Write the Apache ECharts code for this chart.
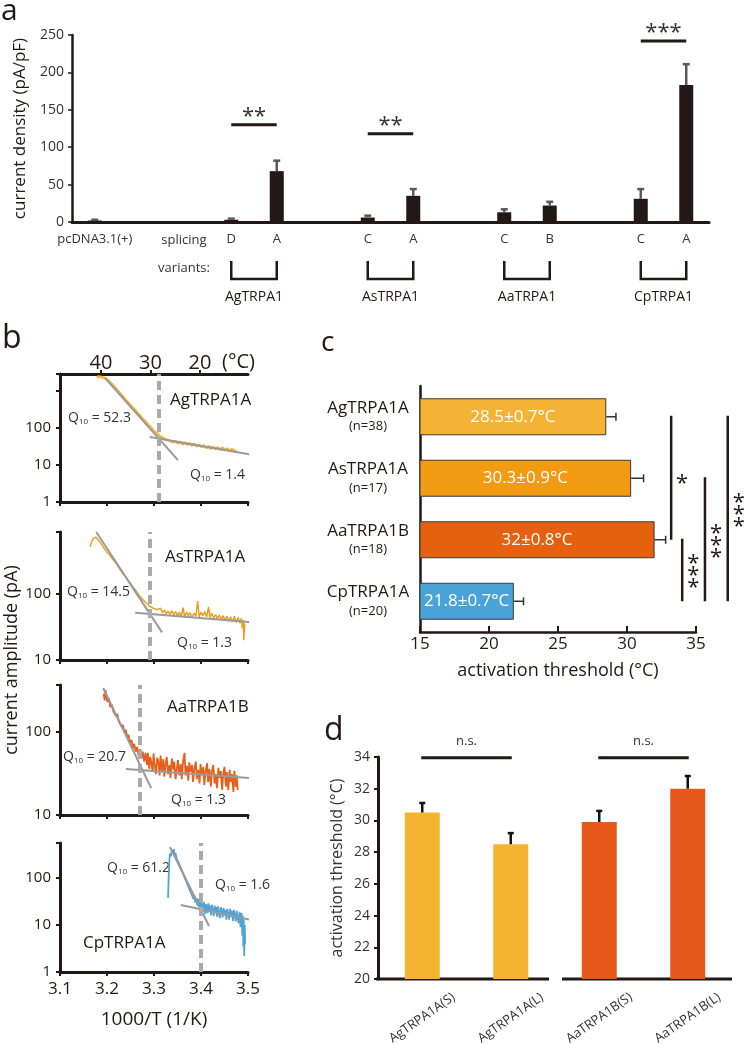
<!DOCTYPE html>
<html>
<head>
<meta charset="utf-8">
<title>TRPA1 figure</title>
<script src="https://cdn.jsdelivr.net/npm/echarts@6.0.0/dist/echarts.min.js"></script>
<style>
  html, body { margin: 0; padding: 0; background: #fff; }
  #main { width: 747px; height: 1044px; }
</style>
</head>
<body>
<div id="main"></div>
<script>
// ---- panel a : current density ----
const aCategories = ['pcDNA3.1(+)', '', '', 'D', 'A', '', 'C', 'A', '', 'C', 'B', '', 'C', 'A'];
const aMeans = [2, null, null, 3, 68, null, 6, 35, null, 13, 22, null, 31, 183];
const aErrors = [1, null, null, 1.5, 14, null, 2.5, 9, null, 4, 5, null, 13, 28];
const aGroups = ['AgTRPA1', 'AsTRPA1', 'AaTRPA1', 'CpTRPA1'];
const aGroupIdx = [[3, 4], [6, 7], [9, 10], [12, 13]];
const aSig = [{from: 3, to: 4, y: 130, text: '**'}, {from: 6, to: 7, y: 118, text: '**'}, {from: 12, to: 13, y: 242, text: '***'}];

// ---- panel b : current vs 1000/T ----
const bNames = ['AgTRPA1A', 'AsTRPA1A', 'AaTRPA1B', 'CpTRPA1A'];
const bColors = ['#F4B23A', '#F09A18', '#E5601C', '#4DA5D9'];
const bTempTicks = [20, 30, 40];
const bYMin = [1, 10, 10, 1];
const bYMax = [2884, 870, 368, 556];
const bThresholds = [3.313, 3.289, 3.272, 3.398];
const bQ10Fast = ['52.3', '14.5', '20.7', '61.2'];
const bQ10Slow = ['1.4', '1.3', '1.3', '1.6'];
const bFitFast = [
  [[3.196, 2240], [3.351, 13.6]],
  [[3.177, 871], [3.317, 26.2]],
  [[3.192, 339], [3.294, 21.1]],
  [[3.334, 457], [3.417, 9.5]]
];
const bFitSlow = [
  [[3.291, 57.1], [3.511, 18.6]],
  [[3.260, 52], [3.515, 36.9]],
  [[3.240, 35.8], [3.502, 27.9]],
  [[3.357, 26.7], [3.506, 12.8]]
];
const bTraceAg = [[3.178, 2350], [3.183, 2480], [3.188, 2400], [3.193, 2300], [3.198, 2150], [3.204, 1850], [3.210, 1560], [3.216, 1270], [3.222, 1060], [3.228, 850], [3.234, 710], [3.240, 565], [3.246, 475], [3.252, 380], [3.258, 325], [3.264, 258], [3.270, 218], [3.276, 175], [3.282, 150], [3.288, 120], [3.294, 102], [3.300, 82], [3.306, 72], [3.312, 60], [3.318, 55], [3.324, 49], [3.330, 47], [3.336, 44], [3.341, 41], [3.346, 44], [3.351, 39], [3.356, 42], [3.361, 37], [3.366, 40], [3.371, 36], [3.376, 38], [3.381, 34], [3.386, 37], [3.391, 32], [3.396, 35], [3.401, 31], [3.406, 34], [3.411, 29], [3.416, 32], [3.421, 28], [3.426, 31], [3.431, 27], [3.436, 30], [3.441, 26], [3.446, 29], [3.451, 25], [3.456, 28], [3.461, 24], [3.466, 27], [3.471, 23], [3.474, 26]];
const bTraceAs = [[3.164, 520], [3.167, 610], [3.170, 680], [3.173, 640], [3.176, 730], [3.179, 690], [3.182, 650], [3.186, 600], [3.190, 545], [3.195, 480], [3.200, 430], [3.205, 395], [3.210, 350], [3.215, 318], [3.220, 288], [3.225, 252], [3.230, 222], [3.235, 200], [3.240, 182], [3.245, 160], [3.250, 146], [3.255, 128], [3.260, 116], [3.265, 103], [3.270, 93], [3.275, 84], [3.280, 77], [3.285, 71], [3.290, 66], [3.294, 70], [3.298, 61], [3.302, 65], [3.306, 58], [3.310, 55], [3.314, 61], [3.318, 52], [3.322, 57], [3.326, 50], [3.330, 55], [3.334, 49], [3.338, 56], [3.342, 48], [3.346, 54], [3.350, 47], [3.354, 53], [3.358, 46], [3.362, 62], [3.365, 45], [3.369, 53], [3.373, 47], [3.377, 52], [3.381, 44], [3.385, 51], [3.389, 46], [3.393, 78], [3.396, 45], [3.400, 53], [3.404, 47], [3.408, 54], [3.412, 45], [3.416, 64], [3.419, 44], [3.423, 51], [3.427, 43], [3.431, 49], [3.435, 42], [3.439, 48], [3.443, 41], [3.447, 47], [3.451, 40], [3.455, 46], [3.459, 39], [3.463, 45], [3.467, 38], [3.471, 46], [3.475, 37], [3.479, 44], [3.483, 36], [3.486, 43], [3.488, 30], [3.490, 40], [3.491, 20], [3.493, 36]];
const bTraceAa = [[3.193, 290], [3.195, 240], [3.197, 320], [3.199, 260], [3.201, 230], [3.204, 255], [3.207, 200], [3.210, 215], [3.213, 180], [3.216, 190], [3.219, 155], [3.222, 165], [3.225, 135], [3.228, 142], [3.231, 115], [3.234, 122], [3.237, 100], [3.240, 106], [3.243, 86], [3.246, 92], [3.249, 74], [3.252, 80], [3.255, 64], [3.258, 72], [3.261, 58], [3.264, 66], [3.267, 52], [3.270, 62], [3.273, 48], [3.276, 58], [3.279, 44], [3.282, 56], [3.285, 40], [3.287, 56], [3.290, 36], [3.292, 50], [3.294, 44], [3.297, 33], [3.299, 55], [3.302, 38], [3.304, 31], [3.307, 49], [3.309, 45], [3.312, 30], [3.314, 52], [3.317, 34], [3.320, 47], [3.322, 29], [3.325, 42], [3.327, 50], [3.330, 31], [3.333, 40], [3.335, 28], [3.338, 48], [3.341, 35], [3.343, 44], [3.346, 27], [3.349, 38], [3.351, 46], [3.354, 30], [3.357, 41], [3.359, 27], [3.362, 45], [3.365, 56], [3.367, 30], [3.370, 39], [3.373, 26], [3.375, 43], [3.378, 33], [3.381, 40], [3.383, 25], [3.386, 37], [3.389, 44], [3.391, 27], [3.394, 35], [3.397, 24], [3.399, 41], [3.402, 30], [3.405, 38], [3.407, 23], [3.410, 34], [3.413, 42], [3.415, 25], [3.418, 36], [3.421, 22], [3.423, 33], [3.426, 40], [3.429, 24], [3.431, 31], [3.434, 21], [3.437, 37], [3.439, 28], [3.442, 34], [3.445, 20], [3.447, 30], [3.450, 38], [3.453, 22], [3.455, 33], [3.458, 20], [3.461, 35], [3.463, 25], [3.466, 31], [3.469, 19], [3.471, 34], [3.474, 22], [3.476, 30], [3.478, 20]];
const bTraceCp = [[3.330, 38], [3.331, 90], [3.332, 170], [3.333, 260], [3.334, 330], [3.336, 290], [3.338, 390], [3.340, 330], [3.342, 410], [3.344, 300], [3.346, 340], [3.348, 260], [3.350, 265], [3.352, 215], [3.354, 210], [3.356, 172], [3.358, 165], [3.360, 138], [3.362, 130], [3.364, 110], [3.366, 104], [3.368, 88], [3.370, 84], [3.372, 70], [3.374, 68], [3.376, 56], [3.378, 55], [3.380, 45], [3.382, 47], [3.384, 36], [3.386, 42], [3.388, 30], [3.390, 38], [3.392, 26], [3.394, 36], [3.396, 24], [3.398, 33], [3.399, 21], [3.401, 30], [3.403, 26], [3.404, 19], [3.406, 31], [3.408, 22], [3.409, 17], [3.411, 28], [3.413, 24], [3.414, 18], [3.416, 29], [3.418, 20], [3.420, 26], [3.421, 16], [3.423, 27], [3.425, 21], [3.427, 15.5], [3.429, 26], [3.431, 19], [3.432, 24], [3.434, 15], [3.436, 25], [3.438, 18], [3.440, 14], [3.442, 24], [3.444, 20], [3.446, 14.5], [3.448, 23], [3.450, 16], [3.452, 21], [3.454, 13], [3.456, 22], [3.458, 17], [3.460, 13], [3.462, 22], [3.464, 15], [3.466, 20], [3.468, 12], [3.470, 21], [3.472, 16], [3.474, 12], [3.476, 20], [3.478, 14], [3.480, 11], [3.482, 19], [3.484, 9], [3.486, 18], [3.488, 6], [3.489, 16], [3.490, 3.5], [3.491, 13], [3.492, 2.2], [3.493, 10], [3.494, 4]];
const bTraces = [bTraceAg, bTraceAs, bTraceAa, bTraceCp];

// ---- panel c : activation threshold ----
const cNames = ['AgTRPA1A', 'AsTRPA1A', 'AaTRPA1B', 'CpTRPA1A'];
const cN = [38, 17, 18, 20];
const cMeans = [28.5, 30.3, 32, 21.8];
const cSem = [0.7, 0.9, 0.8, 0.7];
const cColors = ['#F5B335', '#F19A12', '#E5600F', '#4AA3D6'];
const cSig = [{x: 33.2, from: 0, to: 2, text: '*'}, {x: 34.0, from: 2, to: 3, text: '***'}, {x: 35.65, from: 1, to: 3, text: '***'}, {x: 37.3, from: 0, to: 3, text: '***'}];

// ---- panel d : splice variants ----
const dNames = ['AgTRPA1A(S)', 'AgTRPA1A(L)', 'AaTRPA1B(S)', 'AaTRPA1B(L)'];
const dMeans = [30.5, 28.5, 29.9, 32.0];
const dErrors = [0.6, 0.7, 0.7, 0.8];
const dColors = ['#F5B331', '#F5B331', '#E5581A', '#E5581A'];
const dSig = [{from: 0, to: 1, y: 33.95, text: 'n.s.'}, {from: 2, to: 3, y: 33.95, text: 'n.s.'}];

const FONT = '"Open Sans", "Noto Sans", sans-serif';
const INK = '#231815';

function vErr(capW, color, width) {
  return function (params, api) {
    const p0 = api.coord([api.value(0), api.value(1)]);
    const p1 = api.coord([api.value(0), api.value(1) + api.value(2)]);
    return {
      type: 'group',
      children: [
        {type: 'line', shape: {x1: p0[0], y1: p0[1], x2: p1[0], y2: p1[1]}, style: {stroke: color, lineWidth: width}},
        {type: 'line', shape: {x1: p1[0] - capW / 2, y1: p1[1], x2: p1[0] + capW / 2, y2: p1[1]}, style: {stroke: color, lineWidth: width}}
      ]
    };
  };
}
function hErr(capH, color, width) {
  return function (params, api) {
    const p0 = api.coord([api.value(0), api.value(1)]);
    const p1 = api.coord([api.value(0) + api.value(2), api.value(1)]);
    return {
      type: 'group',
      children: [
        {type: 'line', shape: {x1: p0[0], y1: p0[1], x2: p1[0], y2: p1[1]}, style: {stroke: color, lineWidth: width}},
        {type: 'line', shape: {x1: p1[0], y1: p1[1] - capH / 2, x2: p1[0], y2: p1[1] + capH / 2}, style: {stroke: color, lineWidth: width}}
      ]
    };
  };
}

const axisLine = (w) => ({show: true, onZero: false, lineStyle: {color: INK, width: w}});
// only label the decades 1, 10, 100 on the log axes
const decade = (v) => {
  const l = Math.log10(v);
  return (Math.abs(l - Math.round(l)) < 1e-6 && v < 1000) ? String(Math.round(v)) : '';
};

const grids = [
  {left: 72, top: 35, width: 637, height: 187},
  {left: 60, top: 374, width: 188, height: 128},
  {left: 60, top: 532, width: 188, height: 128},
  {left: 60, top: 685, width: 188, height: 130},
  {left: 60, top: 843, width: 188, height: 129},
  {left: 420, top: 386, width: 276, height: 246},
  {left: 378, top: 757, width: 354, height: 222}
].map(g => Object.assign({outerBoundsMode: 'none', containLabel: false}, g));

const xAxes = [
  // a
  {type: 'category', gridIndex: 0, data: aCategories, axisLine: axisLine(3), axisTick: {show: false},
   axisLabel: {interval: 0, fontSize: 13, color: '#333', margin: 11, fontFamily: FONT}},
  // b1 bottom
  {type: 'value', gridIndex: 1, min: 3.1, max: 3.5, interval: 0.1, axisLine: axisLine(3),
   axisTick: {show: true, length: 4, lineStyle: {color: INK, width: 2}}, axisLabel: {show: false}, splitLine: {show: false}},
  // b1 top temperature
  {type: 'value', gridIndex: 1, position: 'top', inverse: true, min: 10.3, max: 48.28, axisLine: axisLine(3),
   axisTick: {show: true, length: 4, customValues: bTempTicks, lineStyle: {color: INK, width: 2}},
   axisLabel: {show: true, customValues: bTempTicks, fontSize: 20, color: INK, margin: 1, fontFamily: FONT}, splitLine: {show: false}},
  // b2, b3 bottom
  {type: 'value', gridIndex: 2, min: 3.1, max: 3.5, interval: 0.1, axisLine: axisLine(3),
   axisTick: {show: true, length: 4, lineStyle: {color: INK, width: 2}}, axisLabel: {show: false}, splitLine: {show: false}},
  {type: 'value', gridIndex: 3, min: 3.1, max: 3.5, interval: 0.1, axisLine: axisLine(3),
   axisTick: {show: true, length: 4, lineStyle: {color: INK, width: 2}}, axisLabel: {show: false}, splitLine: {show: false}},
  // b4 bottom
  {type: 'value', gridIndex: 4, min: 3.1, max: 3.5, interval: 0.1, axisLine: axisLine(3),
   axisTick: {show: true, length: 4, lineStyle: {color: INK, width: 2}},
   axisLabel: {fontSize: 17, color: INK, margin: 9, fontFamily: FONT, formatter: v => v.toFixed(1)},
   splitLine: {show: false},
   name: '1000/T (1/K)', nameLocation: 'middle', nameGap: 38, nameTextStyle: {fontSize: 19, color: INK, fontFamily: FONT}},
  // c
  {type: 'value', gridIndex: 5, min: 15, max: 35, interval: 5, axisLine: axisLine(2.5),
   axisTick: {show: true, inside: true, length: 6, lineStyle: {color: INK, width: 2}},
   axisLabel: {fontSize: 17, color: INK, margin: 4, fontFamily: FONT}, splitLine: {show: false},
   name: 'activation threshold (\u00B0C)', nameLocation: 'middle', nameGap: 30,
   nameTextStyle: {fontSize: 18, color: INK, fontFamily: FONT}},
  // d
  {type: 'category', gridIndex: 6, data: dNames, axisLine: {show: false}, axisTick: {show: false},
   axisLabel: {interval: 0, rotate: 35, align: 'center', verticalAlign: 'middle', margin: 39, fontSize: 13, color: '#333', fontFamily: FONT}}
];

const bY = (i) => ({
  type: 'log', logBase: 10, gridIndex: i + 1, min: bYMin[i], max: bYMax[i], axisLine: axisLine(3),
  axisTick: {show: true, length: 4, lineStyle: {color: INK, width: 2}},
  axisLabel: {fontSize: 15, color: INK, margin: 9, fontFamily: FONT, formatter: decade},
  splitLine: {show: false}
});

const yAxes = [
  {type: 'value', gridIndex: 0, min: 0, max: 250, interval: 50, axisLine: axisLine(2.5),
   axisTick: {show: true, length: 4, lineStyle: {color: INK, width: 1.5}},
   axisLabel: {fontSize: 14, color: '#333', margin: 8, fontFamily: FONT}, splitLine: {show: false},
   name: 'current density (pA/pF)', nameLocation: 'middle', nameGap: 43, nameRotate: 90,
   nameTextStyle: {fontSize: 17, color: INK, fontFamily: FONT}},
  bY(0), bY(1), bY(2), bY(3),
  {type: 'category', gridIndex: 5, inverse: true, data: cNames, axisLine: axisLine(2.5), axisTick: {show: false},
   axisLabel: {align: 'center', margin: 52, fontFamily: FONT,
     formatter: (v, i) => '{n|' + v + '}\n{m|(n=' + cN[i] + ')}',
     rich: {n: {fontSize: 17, lineHeight: 20, color: INK, fontFamily: FONT}, m: {fontSize: 13, lineHeight: 18, color: INK, fontFamily: FONT}}}},
  {type: 'value', gridIndex: 6, min: 20, max: 34, interval: 2, axisLine: axisLine(3),
   axisTick: {show: true, length: 4, lineStyle: {color: INK, width: 2}},
   axisLabel: {fontSize: 14, color: '#333', margin: 8, fontFamily: FONT}, splitLine: {show: false},
   name: 'activation threshold (\u00B0C)', nameLocation: 'middle', nameGap: 33, nameRotate: 90,
   nameTextStyle: {fontSize: 16, color: '#333', fontFamily: FONT}}
];

const series = [];
// panel a
series.push({type: 'bar', xAxisIndex: 0, yAxisIndex: 0, data: aMeans, barWidth: 14, itemStyle: {color: INK}});
series.push({type: 'custom', xAxisIndex: 0, yAxisIndex: 0, renderItem: vErr(7, '#5a5a5a', 2.5), encode: {x: 0, y: 1},
  data: aMeans.map((m, i) => (m == null ? null : [i, m, aErrors[i]])).filter(Boolean), z: 3});
// panel b
const bXIdx = [1, 3, 4, 5];
const bWidths = [2.6, 1.4, 1.8, 1.8];
bTraces.forEach((tr, i) => {
  series.push({type: 'line', xAxisIndex: bXIdx[i], yAxisIndex: i + 1, data: tr, showSymbol: false,
    lineStyle: {color: bColors[i], width: bWidths[i]}, z: 2});
  series.push({type: 'line', xAxisIndex: bXIdx[i], yAxisIndex: i + 1, data: bFitFast[i], showSymbol: false, clip: false,
    lineStyle: {color: '#999', width: 2}, z: 4,
    markLine: {silent: true, symbol: 'none', label: {show: false}, lineStyle: {color: '#aaa', width: 4, type: [9, 5]},
      data: [{xAxis: bThresholds[i]}]}});
  series.push({type: 'line', xAxisIndex: bXIdx[i], yAxisIndex: i + 1, data: bFitSlow[i], showSymbol: false, clip: false,
    lineStyle: {color: '#999', width: 2}, z: 4});
});
// panel c
series.push({type: 'bar', xAxisIndex: 6, yAxisIndex: 5, barWidth: 37,
  data: cMeans.map((v, i) => ({value: v, itemStyle: {color: cColors[i], borderColor: '#3a3a3a', borderWidth: 1}})),
  label: {show: true, position: 'inside', color: '#fff', fontSize: 17, fontFamily: FONT,
    formatter: p => cMeans[p.dataIndex] + '\u00B1' + cSem[p.dataIndex] + '\u00B0C'}});
series.push({type: 'custom', xAxisIndex: 6, yAxisIndex: 5, renderItem: hErr(8, '#333', 1.5), encode: {x: 0, y: 1},
  data: cMeans.map((m, i) => [m, i, cSem[i]]), z: 3});
// panel d
series.push({type: 'bar', xAxisIndex: 7, yAxisIndex: 6, barWidth: 35,
  data: dMeans.map((v, i) => ({value: v, itemStyle: {color: dColors[i]}}))});
series.push({type: 'custom', xAxisIndex: 7, yAxisIndex: 6, renderItem: vErr(6, '#111', 2.5), encode: {x: 0, y: 1},
  data: dMeans.map((m, i) => [i, m, dErrors[i]]), z: 3});

const chart = echarts.init(document.getElementById('main'));
chart.setOption({
  animation: false,
  backgroundColor: '#fff',
  textStyle: {fontFamily: FONT},
  grid: grids,
  xAxis: xAxes,
  yAxis: yAxes,
  series: series
});

// ---- annotations ----
function txt(x, y, text, size, style, rot) {
  return {type: 'text', x: x, y: y, rotation: rot || 0, silent: true,
    style: Object.assign({text: text, fontSize: size, fontFamily: FONT, fill: INK, align: 'left', verticalAlign: 'middle'}, style || {})};
}
function seg(x1, y1, x2, y2, w, color) {
  return {type: 'line', silent: true, shape: {x1: x1, y1: y1, x2: x2, y2: y2}, style: {stroke: color || INK, lineWidth: w}};
}
const q10 = (v) => ({text: 'Q{s|10} = ' + v, rich: {s: {fontSize: 8, fontFamily: FONT, fill: '#333', verticalAlign: 'bottom', lineHeight: 16}}, fill: '#333'});

const G = [];
G.push(txt(1, 11, 'a', 30));
G.push(txt(2, 339, 'b', 32));
G.push(txt(321, 343, 'c', 28));
G.push(txt(324, 731, 'd', 32));

// a: significance and gene brackets
const ax = (i) => chart.convertToPixel({xAxisIndex: 0}, i);
const ay = (v) => chart.convertToPixel({yAxisIndex: 0}, v);
aSig.forEach(s => {
  const y = ay(s.y);
  G.push(seg(ax(s.from), y, ax(s.to), y, 3));
  G.push(txt((ax(s.from) + ax(s.to)) / 2, y - 8, s.text, 22, {align: 'center', fill: '#333'}));
});
G.push(txt(184, 240, 'splicing', 13, {align: 'center', fill: '#333'}));
G.push(txt(184, 268, 'variants:', 13, {align: 'center', fill: '#333'}));
aGroups.forEach((name, k) => {
  const x1 = ax(aGroupIdx[k][0]), x2 = ax(aGroupIdx[k][1]);
  G.push({type: 'polyline', silent: true, shape: {points: [[x1, 261], [x1, 279], [x2, 279], [x2, 261]]},
    style: {stroke: INK, lineWidth: 2.5, fill: null}});
  G.push(txt((x1 + x2) / 2, 297, name, 14, {align: 'center'}));
});

// b: subplot names and Q10 labels
G.push(txt(222, 362, '(\u00B0C)', 20));
const bNamePos = [[170, 400], [165, 557], [167, 707], [83, 943]];
const bFastPos = [[68, 418], [67, 592], [63, 757], [107, 868]];
const bSlowPos = [[190, 475], [177, 643], [171, 800], [215, 885]];
bNames.forEach((n, i) => {
  G.push(txt(bNamePos[i][0], bNamePos[i][1], n, 17));
  G.push(txt(bFastPos[i][0], bFastPos[i][1], '', 14, q10(bQ10Fast[i])));
  G.push(txt(bSlowPos[i][0], bSlowPos[i][1], '', 14, q10(bQ10Slow[i])));
});
G.push(txt(12, 660, 'current amplitude (pA)', 18, {align: 'center'}, Math.PI / 2));

// c: significance lines
const cx = (v) => chart.convertToPixel({xAxisIndex: 6}, v);
const cy = (i) => chart.convertToPixel({yAxisIndex: 5}, i);
cSig.forEach(s => {
  const x = cx(s.x), y1 = cy(s.from) - 1, y2 = cy(s.to);
  G.push(seg(x, y1, x, y2, 2.5));
  const stars = s.text.split('').join('\n');
  G.push(txt(x + 11, (y1 + y2) / 2 + 6, stars, 22, {align: 'center', lineHeight: 12}));
});

// d: n.s. and split baseline
const dx = (i) => chart.convertToPixel({xAxisIndex: 7}, i);
const dy = (v) => chart.convertToPixel({yAxisIndex: 6}, v);
dSig.forEach(s => {
  const y = dy(s.y);
  G.push(seg(dx(s.from) - 1, y, dx(s.to) + 1, y, 3));
  G.push(txt((dx(s.from) + dx(s.to)) / 2, y - 16, s.text, 13, {align: 'center', fill: '#333'}));
});
const band = dx(1) - dx(0);
const base = dy(20);
const mid = (dx(1) + dx(2)) / 2;
G.push(seg(dx(0) - band / 2 - 2, base, mid - 6, base, 3));
G.push(seg(mid + 7, base, dx(3) + band / 2, base, 3));

chart.setOption({graphic: G});
</script>
</body>
</html>
